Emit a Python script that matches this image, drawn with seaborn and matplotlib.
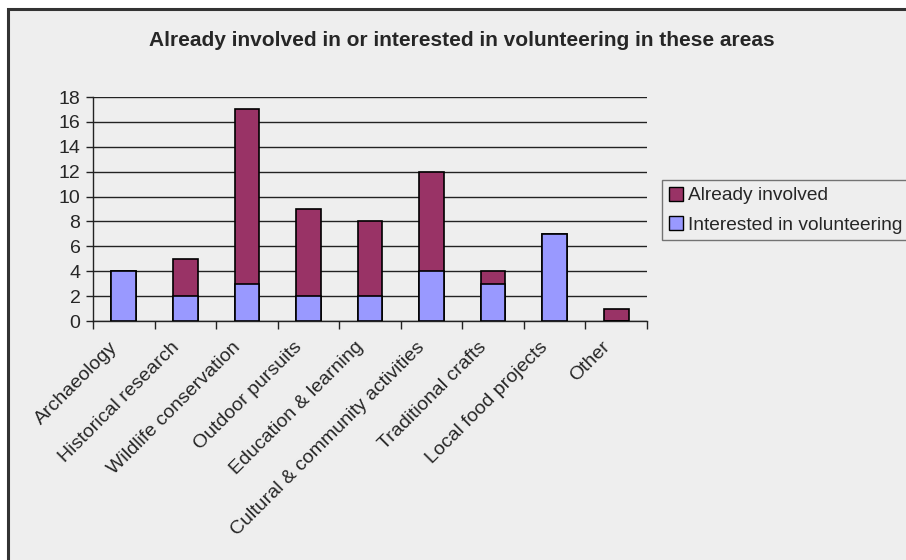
import matplotlib
matplotlib.use("Agg")
import matplotlib.pyplot as plt
from matplotlib.patches import Rectangle, Patch
from matplotlib.transforms import ScaledTranslation
import seaborn as sns
import pandas as pd
import numpy as np

categories = [
    "Archaeology",
    "Historical research",
    "Wildlife conservation",
    "Outdoor pursuits",
    "Education & learning",
    "Cultural & community activities",
    "Traditional crafts",
    "Local food projects",
    "Other",
]
interested = [4, 2, 3, 2, 2, 4, 3, 7, 0]
already = [0, 3, 14, 7, 6, 8, 1, 0, 1]
y_ticks = [0, 2, 4, 6, 8, 10, 12, 14, 16, 18]

COL_ALREADY = "#993366"
COL_INTERESTED = "#9999FF"
BG = "#EEEEEE"

sns.set_style("white")
plt.rcParams["font.family"] = ["Liberation Sans", "DejaVu Sans"]

df = pd.DataFrame({
    "category": categories,
    "interested": interested,
    "already": already,
})
df["total"] = df["interested"] + df["already"]

fig = plt.figure(figsize=(9.06, 5.6), dpi=100, facecolor="white")

# chart area panel with dark frame
panel = Rectangle((7.5 / 906, -0.05), 1.0, 1 - 8.5 / 560 + 0.05,
                  transform=fig.transFigure, facecolor=BG,
                  edgecolor="#333333", linewidth=2.2, zorder=-10)
fig.patches.append(panel)

ax = fig.add_axes([93 / 906, 1 - 321 / 560, (647 - 93) / 906, (321 - 97) / 560])
ax.set_zorder(2)
ax.set_facecolor(BG)

sns.barplot(data=df, x="category", y="total", color=COL_ALREADY, width=0.4,
            edgecolor="black", linewidth=1.2, saturation=1, ax=ax, zorder=3)
sns.barplot(data=df, x="category", y="interested", color=COL_INTERESTED, width=0.4,
            edgecolor="black", linewidth=1.2, saturation=1, ax=ax, zorder=4)

ax.set_xlim(-0.5, len(categories) - 0.5)
ax.set_ylim(0, 18)
ax.set_yticks(y_ticks)
ax.set_yticklabels([str(v) for v in y_ticks], fontsize=14)
ax.yaxis.grid(True, color="#222222", linewidth=1.0)
ax.set_axisbelow(True)

ax.set_xticks(range(len(categories)))
ax.set_xticklabels(categories, rotation=45, ha="right", va="center",
                   rotation_mode="anchor", fontsize=14)
ax.set_xticks(np.arange(-0.5, len(categories), 1.0), minor=True)
ax.tick_params(axis="x", which="major", length=0, pad=17)
ax.tick_params(axis="x", which="minor", length=6, width=1, color="#222222",
               direction="out", bottom=True)
ax.tick_params(axis="y", length=5, width=1, color="#222222", direction="out",
               left=True, pad=4)

# nudge the slanted category labels a little to the left
shift = ScaledTranslation(-9 / 100, 0, fig.dpi_scale_trans)
for lbl in ax.get_xticklabels():
    lbl.set_transform(lbl.get_transform() + shift)

for side in ["top", "right"]:
    ax.spines[side].set_visible(False)
for side in ["left", "bottom"]:
    ax.spines[side].set_color("#222222")
    ax.spines[side].set_linewidth(1.0)

ax.set_xlabel("")
ax.set_ylabel("")

fig.text(462 / 906, 1 - 40 / 560,
         "Already involved in or interested in volunteering in these areas",
         ha="center", va="center", fontsize=15, fontweight="bold")

handles = [
    Patch(facecolor=COL_ALREADY, edgecolor="black", linewidth=1.0, label="Already involved"),
    Patch(facecolor=COL_INTERESTED, edgecolor="black", linewidth=1.0, label="Interested in volunteering"),
]
leg = fig.legend(handles=handles, loc="upper left",
                 bbox_to_anchor=(662 / 906, 1 - 180 / 560),
                 frameon=True, fancybox=False, fontsize=13.8,
                 handlelength=0.75, handleheight=0.75, handletextpad=0.25,
                 labelspacing=0.6, borderpad=0.35, borderaxespad=0)
leg.get_frame().set_facecolor(BG)
leg.get_frame().set_edgecolor("#555555")
leg.get_frame().set_linewidth(1.0)

fig.savefig("out.png", dpi=100, facecolor="white")
